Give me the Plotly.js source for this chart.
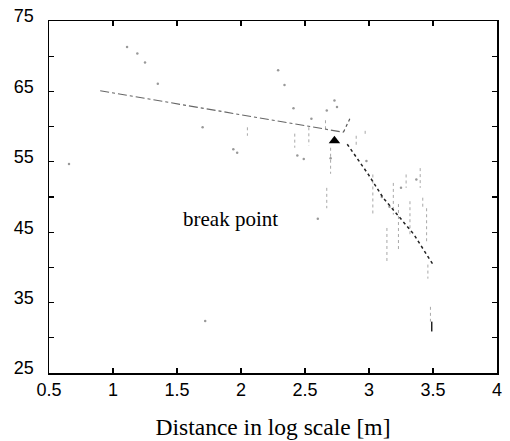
<!DOCTYPE html>
<html>
<head>
<meta charset="utf-8">
<script src="https://cdn.plot.ly/plotly-3.0.1.min.js"></script>
<style>html,body{margin:0;padding:0;background:#fff;}#chart{width:510px;height:441px;}</style>
</head>
<body>
<div id="chart"></div>
<script>
// Fitted segments (log distance vs level)
const fit1X = [0.90, 2.80];
const fit1Y = [65.1, 59.2];
const spikeX = [2.80, 2.85];
const spikeY = [59.2, 61.1];
const fit2X = [2.83, 2.995, 3.11, 3.35, 3.50];
const fit2Y = [57.5, 53.2, 49.9, 44.7, 40.4];
// Break point marker
const breakX = [2.73];
const breakY = [58.0];
// Scattered measurement dots
const dotX = [1.11, 1.19, 1.25, 1.35, 0.656, 1.72, 2.29, 2.34, 2.41, 2.67, 2.73, 2.75, 1.70, 1.94, 1.97, 2.44, 2.49, 2.55, 2.98, 2.60, 3.25, 3.37, 2.70, 3.10, 3.16];
const dotY = [71.3, 70.4, 69.1, 66.1, 54.7, 32.4, 68.0, 65.9, 62.6, 62.3, 63.7, 62.8, 59.9, 56.8, 56.3, 55.9, 55.4, 61.1, 55.1, 46.9, 51.3, 52.5, 55.5, 50.0, 48.6];
// Vertical streaks of measurements: x, top, bottom
const streakX   = [2.05, 2.53, 2.42, 2.66, 2.70, 2.67, 2.90, 2.97, 3.03, 3.14, 3.19, 3.23, 3.29, 3.32, 3.40, 3.42, 3.45, 3.46, 3.48];
const streakTop = [59.9, 59.9, 59.0, 60.9, 57.0, 51.3, 58.7, 59.4, 53.2, 45.6, 52.0, 49.0, 53.2, 49.4, 54.1, 49.9, 48.4, 40.4, 34.4];
const streakBot = [58.7, 57.3, 57.0, 59.6, 53.3, 48.4, 57.0, 58.8, 47.6, 40.9, 47.5, 42.3, 51.3, 44.7, 51.3, 48.4, 43.7, 38.4, 32.3];
const tailX = [3.49, 3.49];
const tailY = [32.3, 30.9];
// Axis ticks
const xTicks = [0.5, 1, 1.5, 2, 2.5, 3, 3.5, 4];
const xTickText = ['0.5', '1', '1.5', '2', '2.5', '3', '3.5', '4'];
const yTicks = [25, 30, 35, 40, 45, 50, 55, 60, 65, 70, 75];
const yTickText = ['25', '', '35', '', '45', '', '55', '', '65', '', '75'];

const sx = [], sy = [];
for (let i = 0; i < streakX.length; i++) {
  sx.push(streakX[i], streakX[i], null);
  sy.push(streakTop[i], streakBot[i], null);
}

const traces = [
  {x: sx, y: sy, mode: 'lines', line: {color: '#a8a8a8', width: 1, dash: 'dot'}, hoverinfo: 'skip'},
  {x: dotX, y: dotY, mode: 'markers', marker: {color: '#999', size: 2.5}, hoverinfo: 'skip'},
  {x: fit1X, y: fit1Y, mode: 'lines', line: {color: '#666', width: 1.1, dash: 'dashdot'}},
  {x: spikeX, y: spikeY, mode: 'lines', line: {color: '#555', width: 1.2, dash: 'dot'}},
  {x: fit2X, y: fit2Y, mode: 'lines', line: {color: '#222', width: 1.5, dash: 'dot'}},
  {x: tailX, y: tailY, mode: 'lines', line: {color: '#222', width: 1.5}},
  {x: breakX, y: breakY, mode: 'markers', marker: {symbol: 'triangle-up', size: 10, color: '#000'}}
];

const layout = {
  width: 510, height: 441,
  margin: {l: 49, r: 13, t: 21, b: 68},
  paper_bgcolor: '#fff', plot_bgcolor: '#fff',
  showlegend: false,
  font: {family: 'Liberation Sans, Arial, sans-serif', size: 18, color: '#000'},
  xaxis: {
    range: [0.5, 4], tickvals: xTicks, ticktext: xTickText,
    ticks: 'inside', ticklen: 5, tickcolor: '#000', tickwidth: 1.2,
    showline: true, linecolor: '#000', linewidth: 1.5, mirror: 'ticks',
    showgrid: false, zeroline: false,
    tickfont: {family: 'Liberation Sans, Arial, sans-serif', size: 18, color: '#000'},
    title: {text: 'Distance in log scale [m]', standoff: 19,
            font: {family: 'Liberation Serif, Times New Roman, serif', size: 23.5, color: '#000'}}
  },
  yaxis: {
    range: [25, 75], tickvals: yTicks, ticktext: yTickText,
    ticks: 'inside', ticklen: 5, tickcolor: '#000', tickwidth: 1.2,
    showline: true, linecolor: '#000', linewidth: 1.5, mirror: 'ticks',
    showgrid: false, zeroline: false, ticklabelstandoff: 10, ticklabelshift: -5,
    tickfont: {family: 'Liberation Sans, Arial, sans-serif', size: 18, color: '#000'}
  },
  annotations: [{
    x: 1.92, y: 46.9, xref: 'x', yref: 'y', text: 'break point', showarrow: false,
    font: {family: 'Liberation Serif, Times New Roman, serif', size: 21, color: '#000'}
  }]
};

Plotly.newPlot('chart', traces, layout, {displayModeBar: false, staticPlot: true});
</script>
</body>
</html>
